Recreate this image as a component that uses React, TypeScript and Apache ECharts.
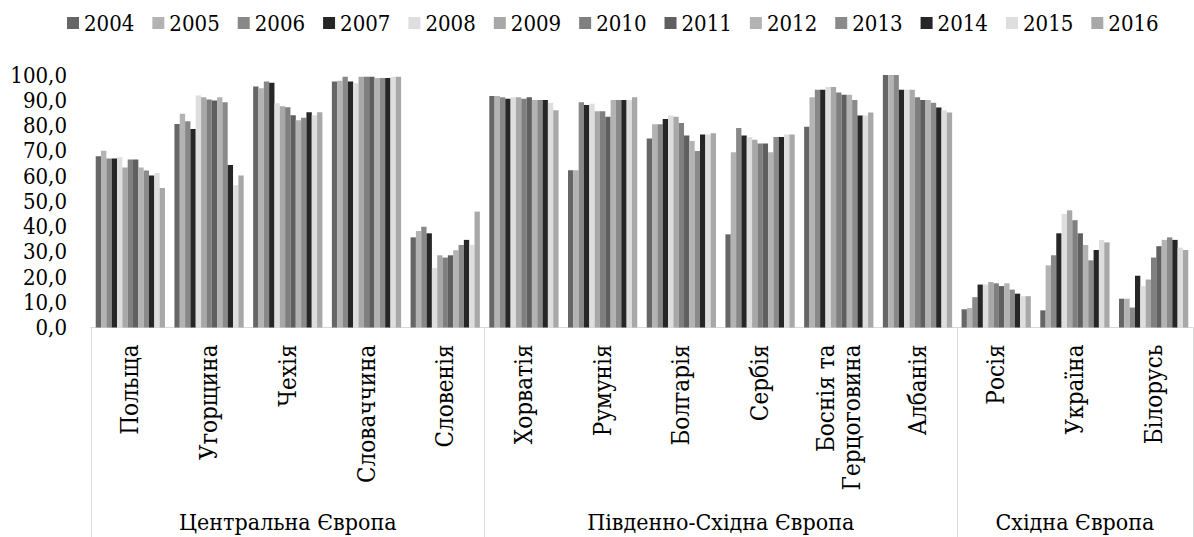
import React, { useEffect, useRef } from "react";
import * as echarts from "echarts";

const countries = [
  "Польща", "Угорщина", "Чехія", "Словаччина", "Словенія",
  "Хорватія", "Румунія", "Болгарія", "Сербія", "Боснія та\nГерцоговина", "Албанія",
  "Росія", "Україна", "Білорусь",
];
const groups = ["Центральна Європа", "Південно-Східна Європа", "Східна Європа"];
const groupSizes = [5, 6, 3];
const years = ["2004", "2005", "2006", "2007", "2008", "2009", "2010", "2011", "2012", "2013", "2014", "2015", "2016"];
const yTicks = [0, 10, 20, 30, 40, 50, 60, 70, 80, 90, 100];

// values per country, 2004..2016
const poland = [67.8, 70.0, 66.9, 66.9, 67.4, 63.4, 66.5, 66.5, 63.4, 62.2, 60.2, 61.2, 55.2];
const hungary = [80.6, 84.7, 81.7, 78.6, 91.9, 91.2, 90.3, 89.9, 91.2, 89.2, 64.4, 56.3, 60.2];
const czechia = [95.4, 94.8, 97.4, 96.9, 88.8, 87.6, 87.2, 84.1, 82.1, 83.1, 85.2, 84.1, 85.2];
const slovakia = [97.4, 97.7, 99.3, 97.4, 96.7, 99.3, 99.3, 99.3, 98.8, 98.8, 98.8, 99.3, 99.3];
const slovenia = [35.7, 38.2, 39.9, 37.3, 23.6, 28.6, 27.7, 28.6, 30.6, 32.7, 34.7, 32.7, 45.9];
const croatia = [91.7, 91.7, 91.2, 90.6, 91.2, 91.2, 90.6, 91.2, 90.1, 90.1, 90.1, 89.0, 86.0];
const romania = [62.3, 62.3, 89.2, 88.1, 88.6, 85.6, 85.6, 83.5, 90.1, 90.1, 90.1, 90.1, 91.2];
const bulgaria = [74.9, 80.5, 80.5, 82.6, 84.0, 83.5, 81.0, 76.0, 73.9, 69.9, 76.4, 76.4, 76.9];
const serbia = [36.9, 69.4, 79.0, 76.0, 75.4, 74.4, 72.9, 72.9, 69.4, 75.4, 75.4, 76.4, 76.4];
const bosnia = [79.5, 91.2, 94.2, 94.2, 95.2, 95.2, 93.1, 92.2, 92.2, 90.1, 84.0, 84.0, 85.1];
const albania = [100.0, 100.0, 100.0, 94.2, 94.2, 94.2, 91.2, 90.1, 90.1, 89.0, 87.1, 86.0, 85.1];
const russia = [7.2, 7.7, 12.0, 17.0, 17.0, 18.0, 17.5, 16.4, 17.5, 15.0, 13.4, 12.4, 12.4];
const ukraine = [6.8, 24.6, 28.6, 37.3, 45.0, 46.4, 42.5, 37.3, 32.7, 26.6, 30.7, 34.7, 33.7];
const belarus = [11.4, 11.4, 7.9, 20.5, 16.4, 19.0, 27.7, 32.2, 34.7, 35.7, 34.7, 31.6, 30.7];

const table = [poland, hungary, czechia, slovakia, slovenia, croatia, romania, bulgaria, serbia, bosnia, albania, russia, ukraine, belarus];

const colors = [
  "#666666", "#b3b3b3", "#888888", "#262626", "#dedede", "#a8a8a8", "#7f7f7f",
  "#5f5f5f", "#b3b3b3", "#8a8a8a", "#262626", "#dedede", "#a8a8a8",
];

const FONT = "DejaVu Serif Condensed";

export default function App() {
  const ref = useRef<HTMLDivElement>(null);
  useEffect(() => {
    if (!ref.current) return;
    const chart = echarts.init(ref.current, undefined, { renderer: "svg" });
    const bounds: number[] = [0];
    groupSizes.forEach((s, i) => bounds.push(bounds[i] + s));
    const mids = groupSizes.map((s, i) => bounds[i] + s / 2);
    const total = bounds[bounds.length - 1];
    const txt = (fs: number) => ({ fontFamily: FONT, fontSize: fs, color: "#000" });
    chart.setOption({
      animation: false,
      color: colors,
      textStyle: { fontFamily: FONT },
      legend: {
        top: 7,
        left: 62,
        width: 1130,
        icon: "rect",
        itemWidth: 12,
        itemHeight: 12,
        itemGap: 18,
        textStyle: txt(22),
        data: years,
      },
      grid: { left: 91, right: 1, top: 75, bottom: 209.5, containLabel: false },
      xAxis: [
        {
          type: "category",
          data: countries,
          axisLine: { show: true, lineStyle: { color: "#d9d9d9", width: 1 } },
          axisTick: { show: false },
          axisLabel: {
            interval: 0,
            rotate: 90,
            margin: 17,
            lineHeight: 26,
            ...txt(24),
          },
        },
        {
          type: "value",
          min: 0,
          max: total,
          position: "bottom",
          axisLine: { show: false },
          splitLine: { show: false },
          axisTick: {
            show: true,
            customValues: bounds,
            length: 210,
            lineStyle: { color: "#d9d9d9", width: 1 },
          },
          axisLabel: {
            customValues: mids,
            margin: 183,
            ...txt(23),
            formatter: (v: number) => {
              const i = mids.findIndex((m) => Math.abs(m - v) < 1e-6);
              return i >= 0 ? groups[i] : "";
            },
          },
        },
      ],
      yAxis: {
        type: "value",
        min: 0,
        max: 100,
        interval: 10,
        axisLine: { show: false },
        axisTick: { show: false },
        splitLine: { show: false },
        axisLabel: {
          margin: 24,
          ...txt(22),
          customValues: yTicks,
          formatter: (v: number) => v.toFixed(1).replace(".", ","),
        },
      },
      series: years.map((y, k) => ({
        name: y,
        type: "bar",
        xAxisIndex: 0,
        barGap: 0,
        barCategoryGap: "12%",
        data: table.map((row) => row[k]),
      })),
    });
    return () => chart.dispose();
  }, []);
  return (
    <div
      ref={ref}
      style={{ position: "fixed", left: 0, top: 0, width: 1194, height: 537, background: "#fff" }}
    />
  );
}
